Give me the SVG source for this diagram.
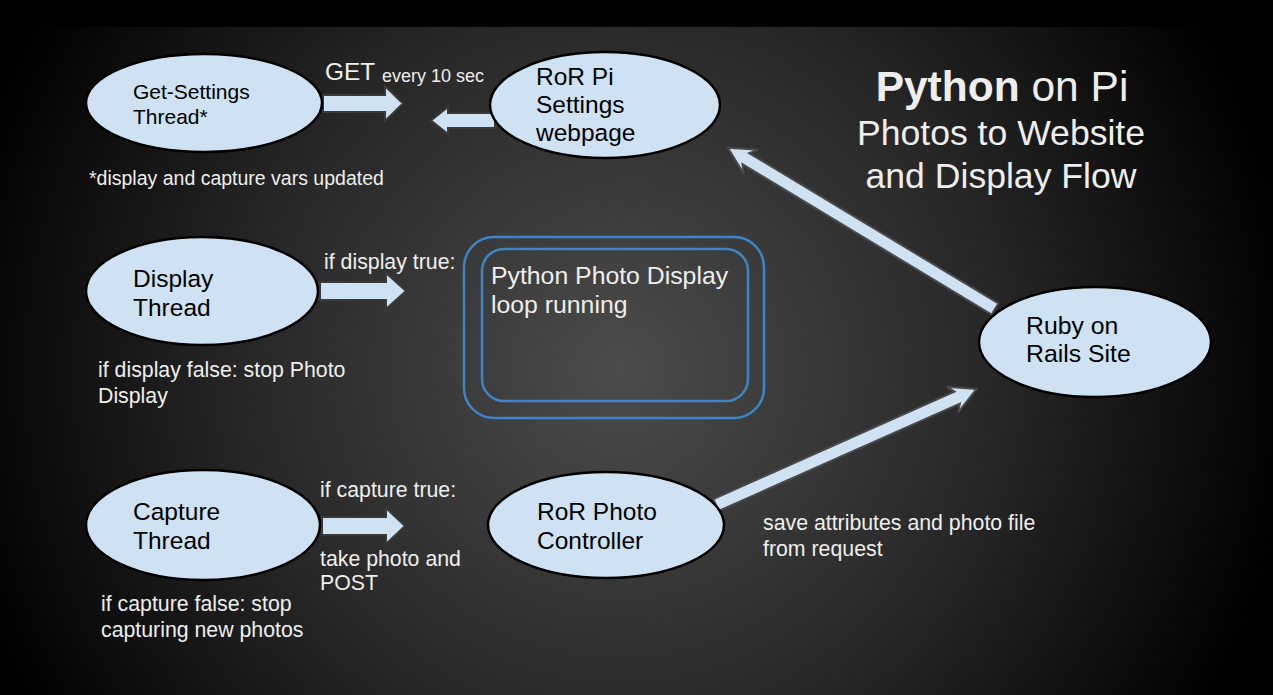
<svg xmlns="http://www.w3.org/2000/svg" width="1273" height="695" viewBox="0 0 1273 695">
<defs>
<radialGradient id="bg" gradientUnits="userSpaceOnUse" cx="620" cy="370" r="680">
<stop offset="0" stop-color="#4c4c4c"/>
<stop offset="0.55" stop-color="#272727"/>
<stop offset="1" stop-color="#000000"/>
</radialGradient>
<style>
.node{fill:#cfe2f3;stroke:#000;stroke-width:2.5}
.nt{font-family:"Liberation Sans",Arial,sans-serif;fill:#000}
.lt{font-family:"Liberation Sans",Arial,sans-serif;fill:#eeeeee}
.arr{fill:#cfe2f3;stroke:#3a3a3a;stroke-width:2;stroke-linejoin:miter}
.larr{fill:#cfe2f3;stroke:#4a4a4a;stroke-width:2}
.box{fill:none;stroke:#3d85c6;stroke-width:2.5}
</style>
</defs>
<rect x="0" y="0" width="1273" height="695" fill="url(#bg)"/>
<rect x="0" y="0" width="1273" height="27" fill="#000"/>

<g id="connectors">
<polygon class="arr" points="323,95 385,95 385,86 403,103.5 385,121 385,112 323,112"/>
<polygon class="arr" points="495,113 448,113 448,107 431,120.5 448,134 448,128 495,128"/>
<polygon class="arr" points="320,282 386,282 386,273 406,291 386,309 386,300 320,300"/>
<polygon class="arr" points="322,517 386,517 386,508 405,526 386,544 386,535 322,535"/>
<polygon class="larr" transform="translate(995,309) rotate(-148.9)" points="0,-6.5 291,-6.5 285,-14 312,0 285,14 291,6.5 0,6.5"/>
<polygon class="larr" transform="translate(716,505) rotate(-24)" points="0,-6.5 264,-6.5 259,-14 285,0 259,14 264,6.5 0,6.5"/>
</g>

<g id="get-settings">
<ellipse class="node" cx="204" cy="103" rx="118" ry="49"/>
<text class="nt" font-size="21" x="133" y="99">Get-Settings</text>
<text class="nt" font-size="21" x="133" y="124">Thread*</text>
</g>
<g id="ror-pi-settings">
<ellipse class="node" cx="605" cy="105" rx="115" ry="53"/>
<text class="nt" font-size="24.5" x="536" y="85">RoR Pi</text>
<text class="nt" font-size="24.5" x="536" y="113">Settings</text>
<text class="nt" font-size="24.5" x="536" y="141">webpage</text>
</g>
<g id="display-thread">
<ellipse class="node" cx="202" cy="291" rx="116" ry="54"/>
<text class="nt" font-size="24.5" x="133" y="287">Display</text>
<text class="nt" font-size="24.5" x="133" y="316">Thread</text>
</g>
<g id="photo-display">
<rect class="box" x="464" y="237" width="300" height="181" rx="30"/>
<rect class="box" x="482" y="249" width="266" height="152" rx="22"/>
<text class="lt" font-size="24.8" x="491" y="284">Python Photo Display</text>
<text class="lt" font-size="24.8" x="491" y="313">loop running</text>
</g>
<g id="capture-thread">
<ellipse class="node" cx="203" cy="525" rx="117" ry="55"/>
<text class="nt" font-size="24.5" x="133" y="520">Capture</text>
<text class="nt" font-size="24.5" x="133" y="549">Thread</text>
</g>
<g id="ror-photo-controller">
<ellipse class="node" cx="606" cy="525" rx="118" ry="53"/>
<text class="nt" font-size="24.5" x="537" y="520">RoR Photo</text>
<text class="nt" font-size="24.5" x="537" y="549">Controller</text>
</g>
<g id="ruby-on-rails">
<ellipse class="node" cx="1095" cy="342" rx="116" ry="55"/>
<text class="nt" font-size="24.8" x="1026" y="334">Ruby on</text>
<text class="nt" font-size="24.8" x="1026" y="362">Rails Site</text>
</g>

<g id="labels">
<text class="lt" font-size="24.4" x="325" y="80">GET</text>
<text class="lt" font-size="18" x="382" y="82">every 10 sec</text>
<text class="lt" font-size="19.5" x="89" y="185">*display and capture vars updated</text>
<text class="lt" font-size="21.3" x="324" y="269">if display true:</text>
<text class="lt" font-size="21.3" x="98" y="377">if display false: stop Photo</text>
<text class="lt" font-size="21.3" x="98" y="403">Display</text>
<text class="lt" font-size="21.3" x="320" y="497">if capture true:</text>
<text class="lt" font-size="21.3" x="320" y="566">take photo and</text>
<text class="lt" font-size="21.3" x="320" y="590">POST</text>
<text class="lt" font-size="21.3" x="101" y="611">if capture false: stop</text>
<text class="lt" font-size="21.3" x="101" y="637">capturing new photos</text>
<text class="lt" font-size="21.3" x="763" y="530">save attributes and photo file</text>
<text class="lt" font-size="21.3" x="763" y="556">from request</text>
</g>

<g id="title" text-anchor="middle">
<text class="lt" font-size="42.5" x="1002" y="101"><tspan font-weight="bold">Python</tspan> on Pi</text>
<text class="lt" font-size="35.6" x="1001" y="145">Photos to Website</text>
<text class="lt" font-size="35.6" x="1001" y="188">and Display Flow</text>
</g>
</svg>
